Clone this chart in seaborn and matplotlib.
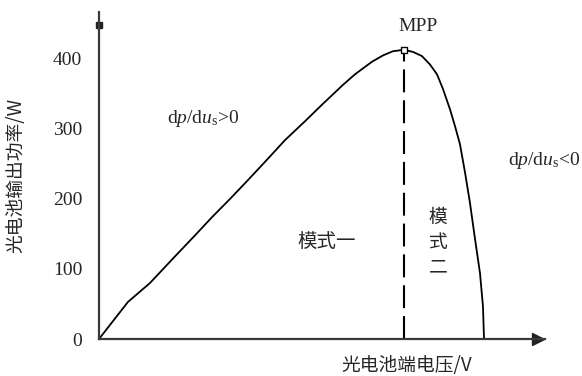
import numpy as np
import pandas as pd
import matplotlib
matplotlib.use("Agg")
import matplotlib.pyplot as plt
import seaborn as sns

# P-U curve of the PV cell (voltage in arbitrary units)
volt = [0.0, 2.9, 5.1, 7.6, 9.6, 11.3, 13.1, 14.9, 16.6, 18.6, 20.6, 22.4, 24.4,
        25.6, 27.3, 28.4, 29.4, 30.5, 31.4, 32.3, 33.1, 33.8, 34.4,
        35.1, 35.6, 36.1, 36.6, 37.1, 37.6, 38.1, 38.4, 38.5]
power = [0, 53, 80, 118, 148, 174, 200, 227, 253, 284, 311, 336, 363,
         378, 396, 405, 411, 413, 410, 404, 392, 378, 357,
         328, 304, 278, 238, 194, 143, 94, 46, 0]
mpp_v, mpp_p = 30.5, 413
y_ticks = [0, 100, 200, 300, 400]
x_ticks = [13.1, 39.8]

sns.set_style("white")
plt.rcParams['font.family'] = ['Liberation Serif', 'Noto Sans CJK SC']
plt.rcParams['mathtext.fontset'] = 'custom'
plt.rcParams['mathtext.rm'] = 'Liberation Serif'
plt.rcParams['mathtext.it'] = 'Liberation Serif:italic'
cjk = ['Noto Sans CJK SC', 'DejaVu Sans']

fig = plt.figure(figsize=(5.82, 3.76), dpi=100)
ax = fig.add_axes([99 / 582, 37 / 376, 446 / 582, 327 / 376])
df = pd.DataFrame({'u': volt, 'p': power})
sns.lineplot(data=df, x='u', y='p', ax=ax, color='black', lw=1.3, sort=False, estimator=None)

ax.plot([mpp_v, mpp_v], [0, mpp_p], color='black', lw=1.5, dashes=(11, 3.8))
ax.plot(mpp_v, mpp_p, 's', ms=4, mfc='white', mec='black', mew=1)

ax.set_xlim(0, 44.6)
ax.set_ylim(0, 467)
for s in ['top', 'right']: ax.spines[s].set_visible(False)
for s in ['left', 'bottom']:
    ax.spines[s].set_color('#3a3a3a')
    ax.spines[s].set_linewidth(1.6)
ax.plot(0.985, 0, '>', color='#222222', ms=8, transform=ax.transAxes, clip_on=False)
ax.plot(0, 0.96, 's', color='#222222', ms=5, transform=ax.transAxes, clip_on=False)

ax.set_yticks(y_ticks)
ax.set_xticks(x_ticks)
ax.set_xticklabels([])
ax.tick_params(axis='y', direction='in', length=7, width=1.6, color='#3a3a3a', labelsize=14, pad=12)
ax.tick_params(axis='x', direction='in', length=6, width=1.6, color='#3a3a3a')

ax.set_ylabel('光电池输出功率/W', family=cjk, fontsize=13.5, labelpad=19)
ax.set_xlabel('光电池端电压/V', family=cjk, fontsize=13.5)
ax.xaxis.set_label_coords(0.69, -0.05)

ax.text(31.9, 447, 'MPP', fontsize=14, ha='center', va='center')
ax.text(6.8, 315, r'd$p$/d$u_\mathrm{s}$>0', fontsize=14, ha='left', va='center')
ax.text(48.1, 255, r'd$p$/d$u_\mathrm{s}$<0', fontsize=14, ha='right', va='center', clip_on=False)
ax.text(19.8, 138, '模式一', family=cjk, fontsize=14, ha='left', va='center')
ax.text(33.9, 138, '模\n式\n二', family=cjk, fontsize=13.5, ha='center', va='center', linespacing=1.25)

fig.savefig('out.png', dpi=100)
